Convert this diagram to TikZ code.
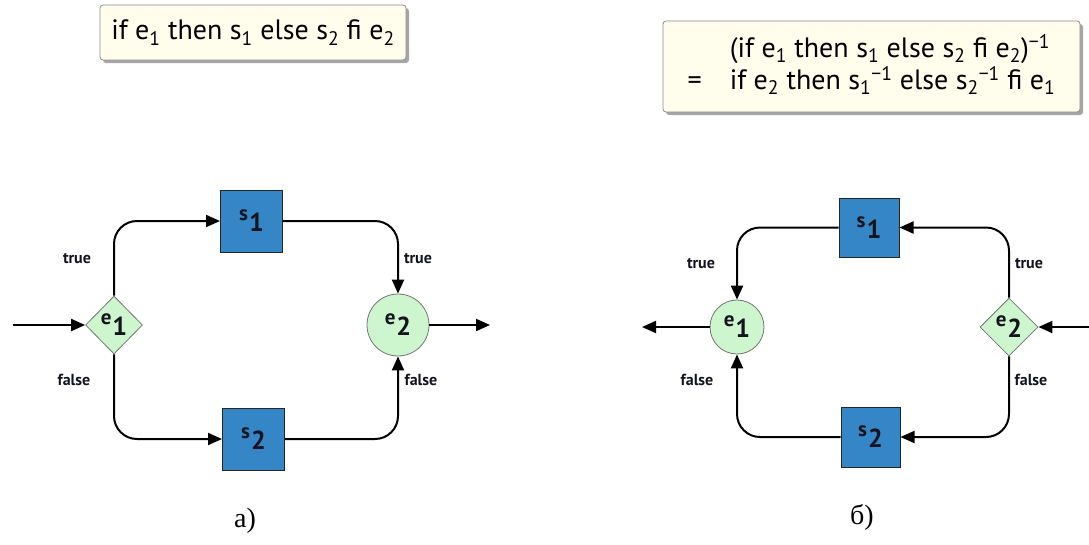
\documentclass[tikz,border=0pt]{standalone}
\usepackage{fontspec}
\setmainfont{Liberation Serif}
\newfontfamily\boxfont{PT Sans}
\usetikzlibrary{arrows.meta,shapes.geometric,shadows}

\definecolor{sqblue}{RGB}{52,134,199}
\definecolor{condgreen}{RGB}{206,246,206}
\definecolor{notecream}{RGB}{255,253,236}
\definecolor{noteedge}{RGB}{140,140,140}
\definecolor{ink}{RGB}{20,20,30}

% letter with a large, lowered index, as used inside the nodes
\newcommand\nodeidx[2]{{\fontsize{21}{21}\selectfont\raisebox{11pt}{#1}}\kern1pt{\fontsize{26}{26}\selectfont #2}}

\tikzset{
  flow/.style={line width=2pt, rounded corners=23pt, -{Triangle[length=14pt,width=12pt]}},
  stmt/.style={draw=black!85, line width=1pt, fill=sqblue, minimum width=62pt,
               minimum height=62pt, inner sep=0pt, text=ink, font=\boxfont\bfseries},
  test/.style={diamond, draw=black!55, line width=0.8pt, fill=condgreen, minimum width=57pt,
               minimum height=58pt, inner sep=0pt, text=ink, font=\boxfont\bfseries},
  mergept/.style={circle, draw=black!55, line width=0.8pt, fill=condgreen, inner sep=0pt,
               text=ink, font=\boxfont\bfseries},
  lbl/.style={text=ink, font=\boxfont\bfseries\fontsize{16}{16}\selectfont},
  note/.style={draw=noteedge, line width=0.8pt, fill=notecream, rounded corners=3pt,
               drop shadow={shadow xshift=3pt, shadow yshift=-3pt, opacity=0.35, fill=black},
               inner sep=0pt, font=\boxfont\fontsize{28}{31}\selectfont},
  caption/.style={font=\fontsize{28}{28}\selectfont}
}

\begin{document}
\begin{tikzpicture}[x=1pt,y=-1pt]
\useasboundingbox (0,0) rectangle (1089,544);

% ---------- formulas ----------
\node[note, minimum width=306pt, minimum height=55pt] (f1) at (253,32.5)
  {if e\textsubscript{1} then s\textsubscript{1} else s\textsubscript{2} fi e\textsubscript{2}};
\node[note, minimum width=417pt, minimum height=91pt] (f2) at (871.5,66.5)
  {\begin{tabular}{@{}l@{\hspace{28pt}}l@{}}
     & (if e\textsubscript{1} then s\textsubscript{1} else s\textsubscript{2} fi e\textsubscript{2})\textsuperscript{−1}\\
    = & if e\textsubscript{2} then s\textsubscript{1}\textsuperscript{−1} else s\textsubscript{2}\textsuperscript{−1} fi e\textsubscript{1}
   \end{tabular}};

% ---------- a) forward conditional ----------
\node[stmt] (s1) at (251.5,221) {\nodeidx{s}{1}};
\node[stmt] (s2) at (253.5,439) {\nodeidx{s}{2}};
\node[test] (e1) at (114,325) {\nodeidx{e}{1}};
\node[mergept, minimum size=62pt] (e2) at (398,325) {\nodeidx{e}{2}};
\coordinate (ina) at (13,325);
\coordinate (outa) at (490,325);

\draw[flow] (ina) -- (e1);
\draw[flow] (e1.north) |- (s1.west);
\draw[flow] (s1.east) -| (e2.north);
\draw[flow] (e1.south) |- (s2.west);
\draw[flow] (s2.east) -| (e2.south);
\draw[flow] (e2.east) -- (outa);

\node[lbl] (ta1) at (77,259) {true};
\node[lbl] (fa1) at (74,380) {false};
\node[lbl] (ta2) at (418,259) {true};
\node[lbl] (fa2) at (421,380) {false};

\node[caption] (capa) at (245,521) {а)};

% ---------- b) inverse conditional ----------
\node[stmt, minimum width=60pt, minimum height=59pt] (s1b) at (869,227.5) {\nodeidx{s}{1}};
\node[stmt, minimum width=59pt, minimum height=60pt] (s2b) at (870.5,437) {\nodeidx{s}{2}};
\node[mergept, minimum size=54pt] (e1b) at (737,327) {\nodeidx{e}{1}};
\node[test, minimum width=58pt, minimum height=58pt] (e2b) at (1009,327) {\nodeidx{e}{2}};
\coordinate (inb) at (1092,327);
\coordinate (outb) at (642,327);

\draw[flow] (inb) -- (e2b);
\draw[flow] (e2b.north) |- (s1b.east);
\draw[flow] (s1b.west) -| (e1b.north);
\draw[flow] (e2b.south) |- (s2b.east);
\draw[flow] (s2b.west) -| (e1b.south);
\draw[flow] (e1b.west) -- (outb);

\node[lbl] (tb1) at (701,264) {true};
\node[lbl] (fb1) at (697,380) {false};
\node[lbl] (tb2) at (1029,264) {true};
\node[lbl] (fb2) at (1031,380) {false};

\node[caption] (capb) at (862,517) {б)};
\end{tikzpicture}
\end{document}
